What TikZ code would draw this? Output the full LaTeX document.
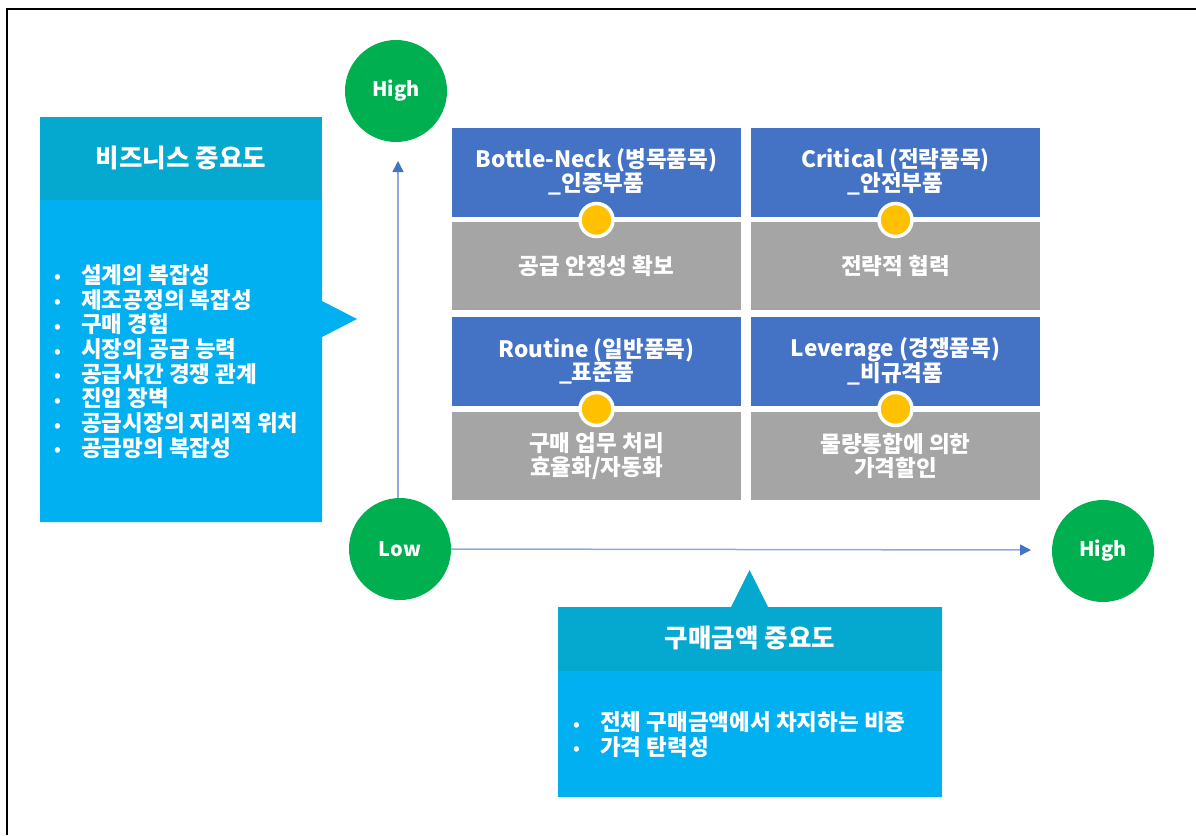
\documentclass[tikz,border=0pt]{standalone}
\usepackage{fontspec}
\setmainfont{Noto Sans CJK KR}
\usetikzlibrary{arrows.meta}

\definecolor{cardblue}{HTML}{4472C4}
\definecolor{cardgray}{HTML}{A5A5A5}
\definecolor{dotyellow}{HTML}{FFC000}
\definecolor{levelgreen}{HTML}{00B050}
\definecolor{headteal}{HTML}{05A8CF}
\definecolor{bodycyan}{HTML}{00B0F0}
\definecolor{axisline}{HTML}{8FAADC}

\newcommand{\bul}[1]{\makebox[27pt][l]{\raisebox{0.5pt}{\fontsize{17}{17}\selectfont •}}#1}

\begin{document}
\begin{tikzpicture}[x=1pt,y=-1pt,
  card/.style={minimum width=289pt, inner sep=0pt, text=white, align=center,
    font=\bfseries\fontsize{22.5}{23.5}\selectfont},
  titlecard/.style={card, fill=cardblue, minimum height=89pt},
  notecard/.style={card, fill=cardgray, minimum height=88pt},
  dot/.style={circle, fill=dotyellow, draw=white, line width=3.5pt, minimum size=33pt, inner sep=0pt},
  level/.style={circle, fill=levelgreen, minimum size=102pt, inner sep=0pt, text=white,
    font=\bfseries\fontsize{20}{20}\selectfont},
  headtext/.style={text=white, font=\bfseries\fontsize{25.5}{25.5}\selectfont},
  bullets/.style={text=white, align=left, inner sep=0pt,
    font=\bfseries\fontsize{22.5}{24.7}\selectfont},
  axis/.style={draw=axisline, line width=1.5pt,
    -{Triangle[length=11pt,width=11pt,color=cardblue,fill=cardblue]}}
]
\useasboundingbox (0,0) rectangle (1196,835);

% page frame
\draw[line width=2pt] (7,835) -- (7,8.5) -- (1196,8.5);

% business-importance callout (left)
\fill[bodycyan] (40,200) -- (322,200) -- (322,301) -- (357,319) -- (322,337)
  -- (322,522) -- (40,522) -- cycle;
\fill[headteal] (40,117) rectangle (322,200);
\node[headtext] (bizhead) at (181,158) {비즈니스 중요도};
\node[bullets, anchor=west] (bizlist) at (54,361.5) {%
  \bul{설계의 복잡성}\\
  \bul{제조공정의 복잡성}\\
  \bul{구매 경험}\\
  \bul{시장의 공급 능력}\\
  \bul{공급사간 경쟁 관계}\\
  \bul{진입 장벽}\\
  \bul{공급시장의 지리적 위치}\\
  \bul{공급망의 복잡성}};

% purchase-amount callout (bottom)
\fill[headteal] (558,607) -- (731,607) -- (749.5,570) -- (768,607) -- (942,607)
  -- (942,671) -- (558,671) -- cycle;
\fill[bodycyan] (558,671) rectangle (942,797);
\node[headtext] (amthead) at (750,638) {구매금액 중요도};
\node[bullets, anchor=west] (amtlist) at (573,734.5) {%
  \bul{전체 구매금액에서 차지하는 비중}\\
  \bul{가격 탄력성}};

% portfolio matrix
\node[titlecard] (bnT) at (596.5,172) {Bottle-Neck (병목품목)\\\_인증부품};
\node[notecard]  (bnN) at (596.5,266) {공급 안정성 확보};
\node[titlecard] (crT) at (895.5,172) {Critical (전략품목)\\\_안전부품};
\node[notecard]  (crN) at (895.5,266) {전략적 협력};
\node[titlecard] (roT) at (596.5,361.5) {Routine (일반품목)\\\_표준품};
\node[notecard]  (roN) at (596.5,456) {구매 업무 처리\\효율화/자동화};
\node[titlecard] (lvT) at (895.5,361.5) {Leverage (경쟁품목)\\\_비규격품};
\node[notecard]  (lvN) at (895.5,456) {물량통합에 의한\\가격할인};

\node[dot] (bnD) at (596.5,220) {};
\node[dot] (crD) at (895.5,220) {};
\node[dot] (roD) at (596.5,409) {};
\node[dot] (lvD) at (895.5,409) {};

% axes and level markers
\node[level] (highY) at (396,91) {High};
\node[level] (low)   at (400,549) {Low};
\node[level] (highX) at (1103,551) {High};
\coordinate (ytip) at (398,161);
\coordinate (xtip) at (1031,550);
\draw[axis] (low.north -| ytip) -- (ytip);
\draw[axis] (low.east) -- (xtip);
\end{tikzpicture}
\end{document}
